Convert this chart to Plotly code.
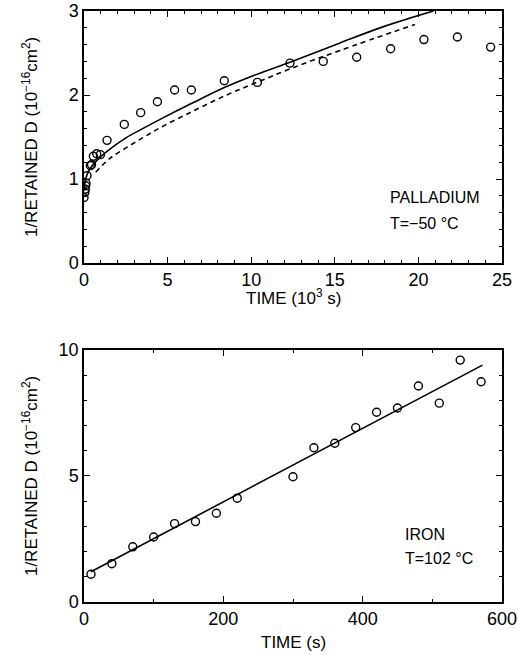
import plotly.graph_objects as go
from plotly.subplots import make_subplots

# Palladium, T = -50 C  (time in 10^3 s)
pd_time = [0.0, 0.05, 0.08, 0.1, 0.12, 0.18, 0.38, 0.45, 0.56, 0.76, 0.98, 1.38,
           2.41, 3.39, 4.39, 5.42, 6.42, 8.39, 10.37, 12.32, 14.31, 16.31, 18.34,
           20.33, 22.33, 24.32]
pd_inv = [0.78, 0.84, 0.88, 0.92, 0.95, 1.04, 1.16, 1.17, 1.27, 1.30, 1.29, 1.46,
          1.65, 1.79, 1.92, 2.06, 2.06, 2.17, 2.15, 2.38, 2.40, 2.45, 2.55,
          2.66, 2.69, 2.57]
pd_solid_t = [0.0, 0.1, 0.32, 0.72, 1.51, 2.51, 3.51, 4.55, 6.54, 8.53, 10.53,
              12.32, 15.31, 18.0, 20.9]
pd_solid_y = [0.86, 1.0, 1.11, 1.21, 1.35, 1.49, 1.60, 1.71, 1.91, 2.10, 2.26,
              2.39, 2.62, 2.82, 3.0]
pd_dash_t = [0.7, 1.51, 2.51, 3.51, 4.55, 6.54, 8.53, 10.33, 12.32, 15.31, 19.8]
pd_dash_y = [1.08, 1.24, 1.37, 1.49, 1.61, 1.81, 2.00, 2.15, 2.31, 2.53, 2.84]

# Iron, T = 102 C (time in s)
fe_time = [10, 40, 70, 100, 130, 160, 190, 220, 300, 330, 360, 390, 420, 450,
           480, 510, 540, 570]
fe_inv = [1.10, 1.52, 2.19, 2.58, 3.11, 3.19, 3.52, 4.12, 4.97, 6.12, 6.30, 6.92,
          7.53, 7.70, 8.57, 7.89, 9.60, 8.74]
fe_fit_t = [10, 572]
fe_fit_y = [1.20, 9.40]

FONT = "Liberation Sans, Arial, Helvetica, sans-serif"

fig = make_subplots(rows=2, cols=1)
fig.update_layout(
    template="none",
    xaxis=dict(domain=[0, 1]), yaxis=dict(domain=[0.5736, 1.0]),
    xaxis2=dict(domain=[0, 1]), yaxis2=dict(domain=[0.0, 0.4264]),
)

marker = dict(symbol="circle-open", size=8, color="black", line=dict(width=1.4, color="black"))

fig.add_trace(go.Scatter(x=pd_solid_t, y=pd_solid_y, mode="lines",
                         line=dict(color="black", width=1.6), line_shape="spline"), row=1, col=1)
fig.add_trace(go.Scatter(x=pd_dash_t, y=pd_dash_y, mode="lines",
                         line=dict(color="black", width=1.6, dash="5px,4px"), line_shape="spline"), row=1, col=1)
fig.add_trace(go.Scatter(x=pd_time, y=pd_inv, mode="markers", marker=marker), row=1, col=1)

fig.add_trace(go.Scatter(x=fe_fit_t, y=fe_fit_y, mode="lines",
                         line=dict(color="black", width=1.6)), row=2, col=1)
fig.add_trace(go.Scatter(x=fe_time, y=fe_inv, mode="markers", marker=marker), row=2, col=1)

axis_common = dict(showline=True, linecolor="black", linewidth=1.5, mirror="ticks",
                   ticks="inside", ticklen=6, tickwidth=1.2, tickcolor="black",
                   showgrid=False, zeroline=False, automargin=False,
                   tickfont=dict(family=FONT, size=18, color="black"))

fig.update_xaxes(axis_common, row=1, col=1, range=[0, 25], dtick=5, tick0=0,
                 minor=dict(dtick=1, ticks="inside", ticklen=3, tickcolor="black", showgrid=False))
fig.update_yaxes(axis_common, row=1, col=1, range=[0, 3], dtick=1, tick0=0,
                 minor=dict(dtick=0.2, ticks="inside", ticklen=3, tickcolor="black", showgrid=False))
fig.update_xaxes(axis_common, row=2, col=1, range=[0, 600], dtick=200, tick0=0,
                 minor=dict(dtick=100, ticks="inside", ticklen=3, tickcolor="black", showgrid=False))
fig.update_yaxes(axis_common, row=2, col=1, range=[0, 10], dtick=5, tick0=0,
                 minor=dict(dtick=1, ticks="inside", ticklen=3, tickcolor="black", showgrid=False))

ytitle = "1/RETAINED D (10<sup>\u221216</sup>cm<sup>2</sup>)"
txt = dict(family=FONT, size=16, color="black")
ttl = dict(family=FONT, size=17, color="black")
anns = [
    dict(text="PALLADIUM", x=18.18, y=0.78, xref="x", yref="y", xanchor="left", yanchor="middle",
         showarrow=False, font=txt),
    dict(text="T=\u221250 \u00b0C", x=18.18, y=0.47, xref="x", yref="y", xanchor="left", yanchor="middle",
         showarrow=False, font=txt),
    dict(text="IRON", x=458, y=2.66, xref="x2", yref="y2", xanchor="left", yanchor="middle",
         showarrow=False, font=txt),
    dict(text="T=102 \u00b0C", x=458, y=1.73, xref="x2", yref="y2", xanchor="left", yanchor="middle",
         showarrow=False, font=txt),
    dict(text="TIME (10<sup>3</sup> s)", x=0.5, y=0.516, xref="paper", yref="paper",
         xanchor="center", yanchor="middle", showarrow=False, font=ttl),
    dict(text="TIME (s)", x=0.5, y=-0.0677, xref="paper", yref="paper",
         xanchor="center", yanchor="middle", showarrow=False, font=ttl),
    dict(text=ytitle, x=-0.129, y=0.7868, xref="paper", yref="paper",
         xanchor="center", yanchor="middle", textangle=-90, showarrow=False, font=ttl),
    dict(text=ytitle, x=-0.129, y=0.2132, xref="paper", yref="paper",
         xanchor="center", yanchor="middle", textangle=-90, showarrow=False, font=ttl),
]

fig.update_layout(
    width=518, height=655,
    margin=dict(l=84, r=16, t=11, b=53, autoexpand=False),
    showlegend=False,
    plot_bgcolor="white", paper_bgcolor="white",
    annotations=anns,
    font=dict(family=FONT, color="black"),
)

fig.write_html("out.html", config={"displayModeBar": False},
               post_script="document.body.style.margin='0';")
